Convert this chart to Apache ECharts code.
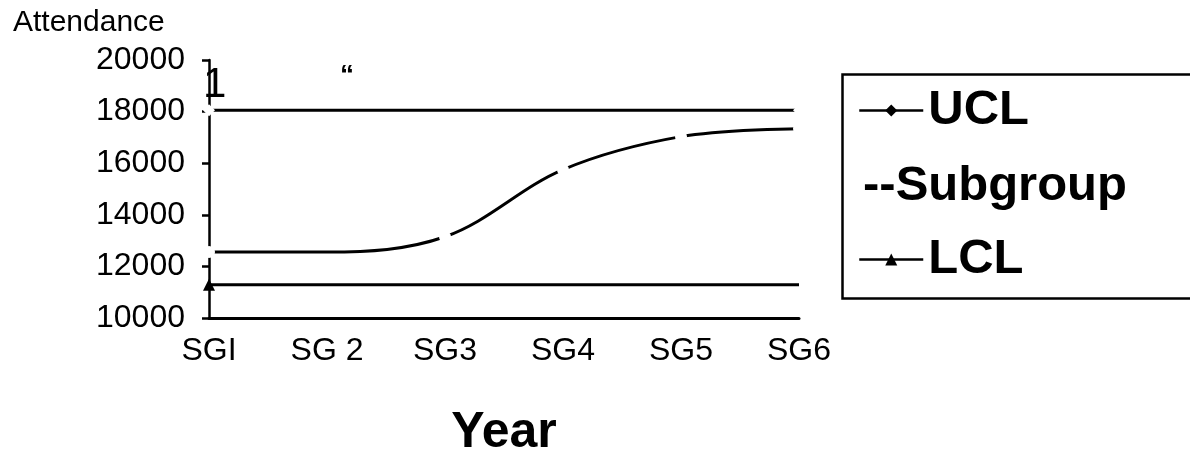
<!DOCTYPE html>
<html>
<head>
<meta charset="utf-8">
<script src="https://cdn.jsdelivr.net/npm/echarts@6/dist/echarts.min.js"></script>
<style>
html,body{margin:0;padding:0;background:#fff;}
#chart{width:1190px;height:453px;}
</style>
</head>
<body>
<div id="chart"></div>
<script>
const categories = ['SGI', 'SG 2', 'SG3', 'SG4', 'SG5', 'SG6'];
const uclValues = [18050, 18050, 18050, 18050, 18050, 18050];
const subgroupValues = [12560, 12560, 13150, 15750, 17030, 17340];
const lclValues = [11290, 11290, 11290, 11290, 11290, 11290];
const yTicks = { min: 10000, max: 20000, interval: 2000 };

const FONT = 'Liberation Sans, Arial, sans-serif';
const chart = echarts.init(document.getElementById('chart'));
const last = categories.length - 1;

const legendBase = {
  orient: 'horizontal',
  padding: 0,
  left: 858,
  selectedMode: false,
  itemHeight: 15,
  itemWidth: 64,
  textStyle: { fontFamily: FONT, fontSize: 49, fontWeight: 'bold', color: '#000' }
};

chart.setOption({
  animation: false,
  backgroundColor: '#fff',
  title: {
    text: 'Attendance',
    left: 8, top: 3,
    textStyle: { fontFamily: FONT, fontSize: 30, fontWeight: 'normal', color: '#000' }
  },
  grid: { left: 209, right: 391, top: 60, bottom: 135, containLabel: false, outerBoundsMode: 'none' },
  legend: [
    Object.assign({}, legendBase, { data: ['UCL'], top: 86, itemStyle: { color: '#000', borderWidth: 0 }, lineStyle: { width: 2.5 } }),
    Object.assign({}, legendBase, { data: ['Subgroup'], top: 162, icon: 'none', itemWidth: 0, formatter: '--Subgroup' }),
    Object.assign({}, legendBase, { data: ['LCL'], top: 235, itemStyle: { color: '#000', borderWidth: 0 }, lineStyle: { width: 2.5 } })
  ],
  xAxis: {
    type: 'category',
    data: categories,
    boundaryGap: false,
    axisLine: { lineStyle: { color: '#000', width: 3 } },
    axisTick: { show: false },
    axisLabel: { fontFamily: FONT, fontSize: 32, color: '#000', margin: 17 },
    splitLine: { show: false },
    name: 'Year',
    nameLocation: 'middle',
    nameGap: 90,
    nameTextStyle: { fontFamily: FONT, fontSize: 50, fontWeight: 'bold', color: '#000' }
  },
  yAxis: {
    type: 'value',
    min: yTicks.min, max: yTicks.max, interval: yTicks.interval,
    axisLine: { show: true, lineStyle: { color: '#000', width: 2.5 } },
    axisTick: { show: true, length: 7, lineStyle: { color: '#000', width: 2.5 } },
    axisLabel: { fontFamily: FONT, fontSize: 32, color: '#000', margin: 24, formatter: v => String(v) },
    splitLine: { show: false }
  },
  series: [
    {
      name: 'UCL', type: 'line', data: uclValues,
      symbol: 'diamond',
      symbolSize: (v, p) => (p.dataIndex === 0 || p.dataIndex === last) ? 12 : 0,
      itemStyle: { color: '#fff' },
      lineStyle: { color: '#000', width: 3 },
      emphasis: { disabled: true }
    },
    {
      name: 'Subgroup', type: 'line', data: subgroupValues,
      smooth: 0.35,
      symbol: 'circle',
      symbolSize: (v, p) => p.dataIndex === 1 ? 0 : 12,
      itemStyle: { color: '#fff' },
      lineStyle: { color: '#000', width: 3 },
      emphasis: { disabled: true }
    },
    {
      name: 'LCL', type: 'line', data: lclValues,
      symbol: 'triangle',
      symbolSize: (v, p) => p.dataIndex === 0 ? 12 : 0,
      itemStyle: { color: '#000' },
      lineStyle: { color: '#000', width: 3 },
      emphasis: { disabled: true }
    }
  ],
  graphic: [
    { type: 'rect', left: 840, top: 72, shape: { width: 380, height: 224 }, style: { fill: 'none', stroke: '#000', lineWidth: 2.5 }, silent: true },
    { type: 'text', left: 203, top: 64, style: { text: '1', fontFamily: FONT, fontSize: 42, fill: '#000' } },
    { type: 'text', left: 340, top: 62, style: { text: '\u201C', fontFamily: FONT, fontSize: 28, fontWeight: 'bold', fill: '#000' } }
  ]
});
</script>
</body>
</html>
